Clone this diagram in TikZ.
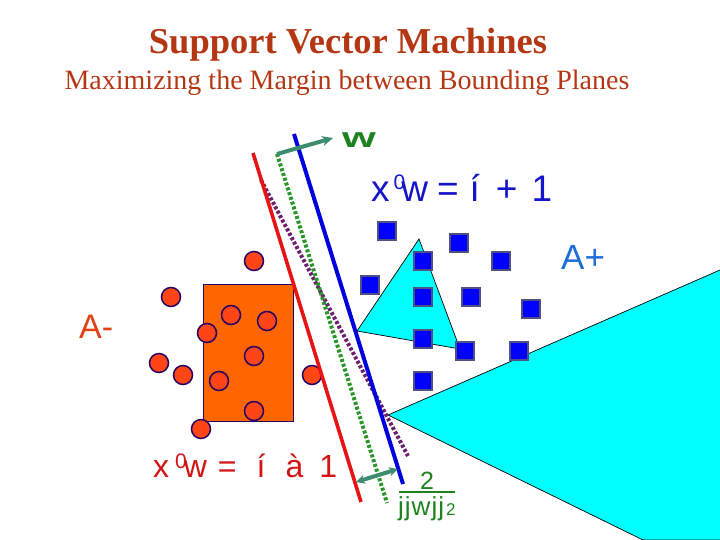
\documentclass[tikz,border=0pt]{standalone}
\usepackage{fontspec}
\setmainfont{Liberation Serif}
\newfontfamily\arialf{Liberation Sans}
\usetikzlibrary{arrows.meta}
\definecolor{titlered}{RGB}{180,55,20}
\definecolor{eqblue}{RGB}{20,20,200}
\definecolor{eqred}{RGB}{210,20,20}
\definecolor{aplus}{RGB}{30,110,220}
\definecolor{aminus}{RGB}{225,65,20}
\definecolor{cyanfill}{RGB}{0,255,255}
\definecolor{circfill}{RGB}{255,70,20}
\definecolor{circdraw}{RGB}{40,0,100}
\definecolor{sqfill}{RGB}{0,0,255}
\definecolor{sqdraw}{RGB}{80,80,130}
\definecolor{rectfill}{RGB}{255,102,0}
\definecolor{lineblue}{RGB}{0,0,220}
\definecolor{linered}{RGB}{230,20,20}
\definecolor{dotgreen}{RGB}{40,150,40}
\definecolor{dotpurple}{RGB}{110,30,110}
\definecolor{arrteal}{RGB}{60,140,110}
\definecolor{wgreen}{RGB}{30,130,30}
\tikzset{
  circ/.style={circle,fill=circfill,draw=circdraw,line width=1.5pt,minimum size=19pt,inner sep=0pt},
  sq/.style={rectangle,fill=sqfill,draw=sqdraw,line width=2pt,minimum size=18pt,inner sep=0pt},
  tri/.style={fill=cyanfill,draw=black,line width=0.7pt},
  solidline/.style={line width=3.6pt},
  dotline/.style={line width=4pt,dash pattern=on 3pt off 2pt},
  txt/.style={inner sep=0pt,anchor=base west},
}
\begin{document}
\begin{tikzpicture}[x=1pt,y=-1pt]
\useasboundingbox (0,0) rectangle (720,540);
% titles
\node[inner sep=0pt,anchor=base,text=titlered,font=\fontsize{36.5}{36.5}\selectfont\bfseries] (title) at (348,54) {Support Vector Machines};
\node[inner sep=0pt,anchor=base,text=titlered,font=\fontsize{28}{28}\selectfont] (subtitle) at (347,90) {Maximizing the Margin between Bounding Planes};
% triangles
\draw[tri] (419,239) -- (357,331) -- (460,349) -- cycle;
\draw[tri] (720,270) -- (388,415) -- (643,540) -- (720,540);
% rectangle
\node[rectangle,fill=rectfill,draw=circdraw,line width=1pt,minimum width=90pt,minimum height=137pt,inner sep=0pt] (box) at (248,352.5) {};
% circles
\node[circ] (c1) at (254,261) {};
\node[circ] (c2) at (171,297) {};
\node[circ] (c3) at (231,315) {};
\node[circ] (c4) at (267,321) {};
\node[circ] (c5) at (207,333) {};
\node[circ] (c6) at (254,356) {};
\node[circ] (c7) at (159,363) {};
\node[circ] (c8) at (183,375) {};
\node[circ] (c9) at (219,381) {};
\node[circ] (c10) at (312,375) {};
\node[circ] (c11) at (254,411) {};
\node[circ] (c12) at (201,429) {};
% squares
\node[sq] (s1) at (387,231) {};
\node[sq] (s2) at (459,243) {};
\node[sq] (s3) at (423,261) {};
\node[sq] (s4) at (501,261) {};
\node[sq] (s5) at (370,285) {};
\node[sq] (s6) at (423,297) {};
\node[sq] (s7) at (471,297) {};
\node[sq] (s8) at (531,309) {};
\node[sq] (s9) at (423,339) {};
\node[sq] (s10) at (465,351) {};
\node[sq] (s11) at (519,351) {};
\node[sq] (s12) at (423,381) {};
% lines
\coordinate (r1) at (253,153); \coordinate (r2) at (361,502);
\coordinate (b1) at (294,134); \coordinate (b2) at (403,484);
\coordinate (g1) at (277,154); \coordinate (g2) at (387,503);
\coordinate (p1) at (261,180); \coordinate (p2) at (408,456);
\coordinate (wt) at (333,138);
\coordinate (m1) at (356,482); \coordinate (m2) at (398,469);
\draw[dotline,dotpurple] (p1) -- (p2);
\draw[dotline,dotgreen] (g1) -- (g2);
\draw[solidline,linered] (r1) -- (r2);
\draw[solidline,lineblue,line width=4pt] (b1) -- (b2);
\draw[line width=4pt,arrteal,-{Stealth[length=11pt,width=10pt]}] (g1) -- (wt);
\draw[line width=4pt,arrteal,{Stealth[length=9pt,width=9pt]}-{Stealth[length=9pt,width=9pt]}] (m1) -- (m2);
% labels
\node[txt,text=wgreen,font=\arialf\bfseries\fontsize{28}{28}\selectfont] (wlab) at (342,148) {\scalebox{1.55}[1]{w}};
\node[txt,text=eqblue,font=\arialf\fontsize{37}{37}\selectfont] (eqtop) at (371,202) {x\kern4pt\raisebox{12pt}{\fontsize{21}{21}\selectfont 0}\kern-4pt w\hspace{9pt}=\hspace{11pt}í\hspace{16pt}+\hspace{14pt}1};
\node[txt,text=eqred,font=\arialf\fontsize{32}{32}\selectfont] (eqbot) at (153,477) {x\kern6pt\raisebox{9pt}{\fontsize{21}{21}\selectfont 0}\kern-3pt w\hspace{11pt}=\hspace{20pt}í\hspace{20pt}à\hspace{16pt}1};
\node[txt,text=aplus,font=\arialf\fontsize{35}{35}\selectfont] (ap) at (561,269) {A+};
\node[txt,text=aminus,font=\arialf\fontsize{34}{34}\selectfont] (am) at (79,338) {A-};
% fraction
\node[inner sep=0pt,anchor=base,text=wgreen,font=\arialf\fontsize{25}{25}\selectfont] (two) at (427,489) {2};
\coordinate (f1) at (399,492); \coordinate (f2) at (455,492);
\draw[wgreen,line width=1.5pt] (f1) -- (f2);
\node[txt,text=wgreen,font=\arialf\fontsize{26}{26}\selectfont] (norm) at (398,515) {j\kern1pt j\kern1pt w\kern1pt j\kern1pt j\kern2pt{\fontsize{17}{17}\selectfont 2}};
\end{tikzpicture}
\end{document}
